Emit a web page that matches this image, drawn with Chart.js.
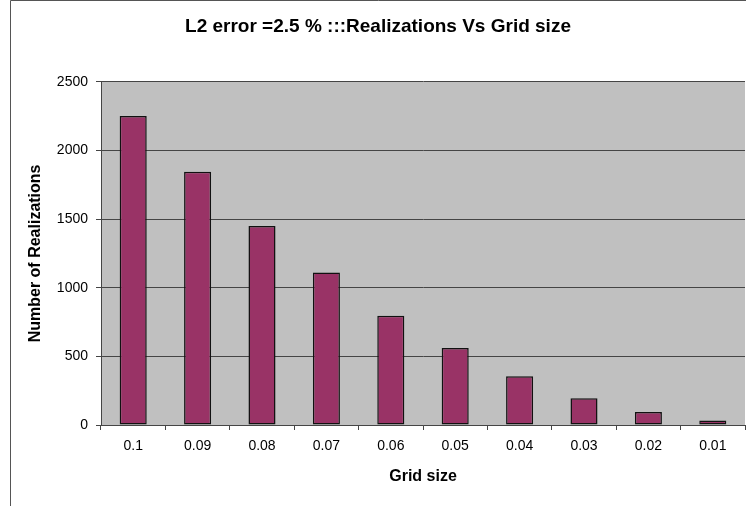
<!DOCTYPE html>
<html>
<head>
<meta charset="utf-8">
<title>Realizations Vs Grid size</title>
<script src="https://cdn.jsdelivr.net/npm/chart.js@4/dist/chart.umd.min.js"></script>
<style>
    html, body { margin: 0; padding: 0; background: #fff; }
    #wrap { width: 746px; height: 506px; }
</style>
</head>
<body>
<div id="wrap"><canvas id="realChart"></canvas></div>
<script>
// dados
const gridSizes = ['0.1', '0.09', '0.08', '0.07', '0.06', '0.05', '0.04', '0.03', '0.02', '0.01'];
const realizations = [2250, 1845, 1450, 1110, 795, 560, 355, 195, 95, 32];
const yTicks = [0, 500, 1000, 1500, 2000, 2500];

const COLORS = {
    bar: '#993366',
    plot: '#C0C0C0',
    grid: '#454545',
    frame: '#555555'
};

const FONT = "'Liberation Sans', Arial, sans-serif";

// fundo cinza da area do grafico + moldura externa
const excelLook = {
    id: 'excelLook',
    beforeDraw(chart) {
        const { ctx, chartArea: a } = chart;
        ctx.save();
        ctx.fillStyle = COLORS.plot;
        ctx.fillRect(a.left, a.top, a.right - a.left, a.bottom - a.top);
        ctx.restore();
    },
    afterDraw(chart) {
        const ctx = chart.ctx;
        ctx.save();
        ctx.strokeStyle = COLORS.frame;
        ctx.lineWidth = 1;
        ctx.beginPath();
        ctx.moveTo(10.5, 506);
        ctx.lineTo(10.5, 0.5);
        ctx.lineTo(746, 0.5);
        ctx.stroke();
        ctx.restore();
    }
};

const ctx = document.getElementById('realChart').getContext('2d');

new Chart(ctx, {
    type: 'bar',
    data: {
        labels: gridSizes,
        datasets: [{
            data: realizations,
            backgroundColor: COLORS.bar,
            borderColor: '#111',
            borderWidth: 1.5,
            borderSkipped: false,
            categoryPercentage: 1,
            barPercentage: 0.42
        }]
    },
    options: {
        responsive: true,
        maintainAspectRatio: false,
        animation: false,
        layout: { padding: { left: 11, right: 1, top: 0, bottom: 0 } },
        plugins: {
            legend: { display: false },
            tooltip: { enabled: false },
            title: {
                display: true,
                text: 'L2 error =2.5 % :::Realizations Vs Grid size',
                color: '#000',
                font: { family: FONT, size: 19, weight: 'bold' },
                padding: { top: 15, bottom: 44 }
            }
        },
        scales: {
            x: {
                offset: true,
                afterFit(scale) { scale.height = 81; },
                grid: {
                    offset: true,
                    drawOnChartArea: false,
                    drawTicks: true,
                    tickLength: 5,
                    color: COLORS.grid
                },
                border: { display: true, color: COLORS.grid, width: 1 },
                ticks: {
                    color: '#000',
                    padding: 8,
                    font: { family: FONT, size: 14 }
                },
                title: {
                    display: true,
                    text: 'Grid size',
                    color: '#000',
                    font: { family: FONT, size: 16, weight: 'bold' },
                    padding: { top: 0, bottom: 20 }
                }
            },
            y: {
                min: 0,
                max: 2500,
                afterFit(scale) { scale.width = 90; },
                afterBuildTicks(scale) { scale.ticks = yTicks.map(v => ({ value: v })); },
                grid: {
                    drawOnChartArea: true,
                    drawTicks: true,
                    tickLength: 5,
                    color: COLORS.grid
                },
                border: { display: true, color: COLORS.grid, width: 1 },
                ticks: {
                    color: '#000',
                    padding: 8,
                    font: { family: FONT, size: 14 },
                    callback: v => String(v)
                },
                title: {
                    display: true,
                    text: 'Number of Realizations',
                    color: '#000',
                    font: { family: FONT, size: 16, weight: 'bold' },
                    padding: { top: 15, bottom: 0 }
                }
            }
        }
    },
    plugins: [excelLook]
});
</script>
</body>
</html>
